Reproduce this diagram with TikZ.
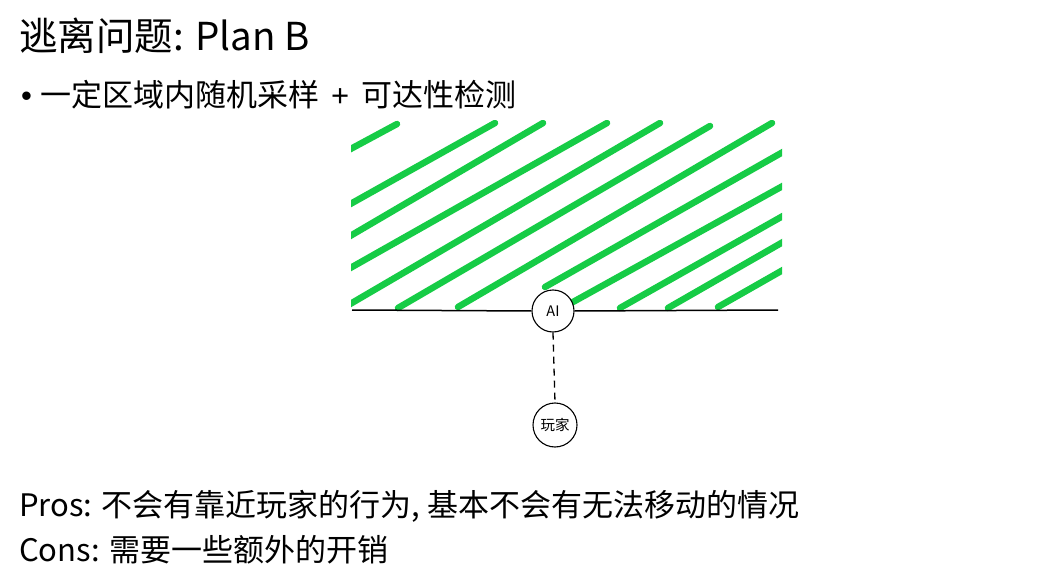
\documentclass[tikz,border=0pt]{standalone}
\usepackage{fontspec}
\newfontfamily\cjk{Noto Sans CJK SC}
\newfontfamily\lat{Liberation Sans}
\definecolor{hatchgreen}{RGB}{22,204,70}
\begin{document}
\begin{tikzpicture}[x=1pt,y=-1pt,
  txt/.style={inner sep=0pt,anchor=base west,font=\cjk\fontsize{31}{36}\selectfont},
  ttl/.style={inner sep=0pt,anchor=base west,font=\cjk\fontsize{38.5}{44}\selectfont},
  dot/.style={circle,draw,line width=1.1pt,inner sep=0pt,fill=white,font=\cjk\fontsize{14.5}{16}\selectfont},
  hatch/.style={draw=hatchgreen,line width=6.5pt,line cap=round},
  edge/.style={draw=black,line width=1.5pt}]
\useasboundingbox (0,0) rectangle (1058,588);
\fill[white] (0,0) rectangle (1058,588);
% texts
\node[ttl] (title) at (19,51) {逃离问题: Plan B};
\node[txt] (bullet) at (21,107) {{\lat\fontsize{31}{36}\selectfont •}\hspace{8pt}一定区域内随机采样\hspace{12pt}{\lat +}\hspace{12pt}可达性检测};
\node[txt] (pros) at (19,516) {Pros: 不会有靠近玩家的行为, 基本不会有无法移动的情况};
\node[txt] (cons) at (19,561) {Cons: 需要一些额外的开销};
% hatching
\begin{scope}
\clip (351,121) rectangle (782,314);
\draw[hatch] (345,152) -- (397,124);
\draw[hatch] (345,207) -- (495,123);
\draw[hatch] (345,239) -- (543,123);
\draw[hatch] (345,271) -- (607,123);
\draw[hatch] (345,307) -- (660,123);
\draw[hatch] (398,308) -- (710,126);
\draw[hatch] (458,307) -- (772,123);
\draw[hatch] (545,287) -- (790,148);
\draw[hatch] (573,302) -- (790,182);
\draw[hatch] (620,308) -- (790,212);
\draw[hatch] (668,308) -- (790,238);
\draw[hatch] (718,307) -- (790,266);
\end{scope}
% nodes
\coordinate (lft) at (352,310);
\coordinate (rgt) at (778,310);
\node[dot,minimum size=42pt] (ai) at (553,311) {AI};
\node[dot,minimum size=44pt] (player) at (555,425) {玩家};
\draw[edge] (lft) -- (ai.west);
\draw[edge] (ai.east) -- (rgt);
\draw[line width=1.3pt,dash pattern=on 7pt off 5pt] (ai.south) -- (player.north);
\end{tikzpicture}
\end{document}
